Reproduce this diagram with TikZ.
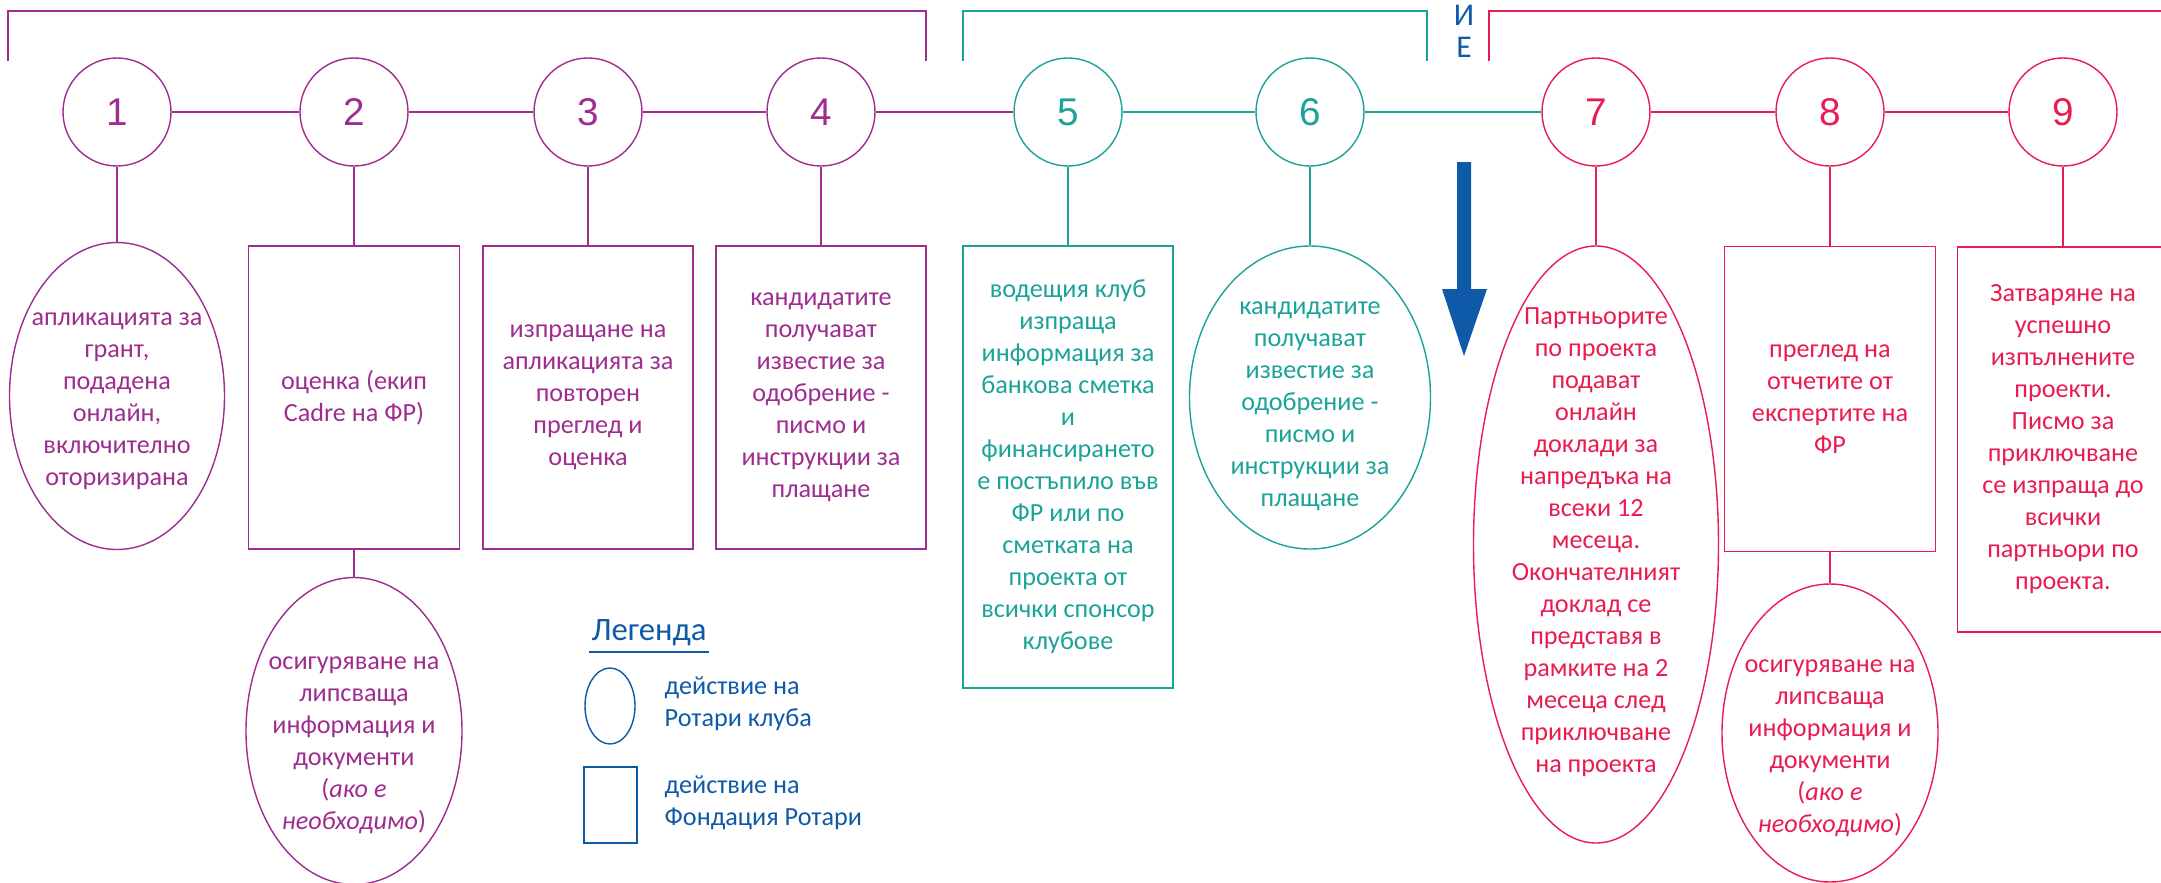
\documentclass[tikz,border=0pt]{standalone}
\usepackage{fontspec}
\setmainfont{Carlito}
\newfontfamily\numfont{Liberation Sans}
\usetikzlibrary{shapes.geometric}

\definecolor{rviolet}{RGB}{158,45,143}
\definecolor{rteal}{RGB}{26,163,150}
\definecolor{rred}{RGB}{232,28,80}
\definecolor{rblue}{RGB}{14,90,168}

\newcommand{\smalltxt}{\fontsize{7.45pt}{9.1pt}\selectfont}
% text that does not make the oval grow
\newcommand{\ovaltext}[2][-1.9pt]{\makebox[0pt]{\raisebox{#1}[0pt][0pt]{\begin{tabular}{@{}c@{}}#2\end{tabular}}}}

\begin{document}
\begin{tikzpicture}[x=1cm, y=-1cm, line width=0.4pt]
\useasboundingbox (0,0) rectangle (21.61,8.83);
\tikzstyle{every node}=[inner sep=0pt, font=\smalltxt];
\tikzstyle{stage}=[draw, shape=circle, minimum size=1.08cm, font=\numfont\fontsize{11pt}{13pt}\selectfont];
\tikzstyle{club}=[draw, shape=ellipse];
\tikzstyle{trf}=[draw, shape=rectangle, align=center];

% brackets on top
\draw[rviolet] (0.08,0.61) -- (0.08,0.11) -- (9.26,0.11) -- (9.26,0.61);
\draw[rteal] (9.63,0.61) -- (9.63,0.11) -- (14.27,0.11) -- (14.27,0.61);
\draw[rred] (14.89,0.61) -- (14.89,0.11) -- (21.70,0.11);
\node[rblue, font=\fontsize{9pt}{10pt}\selectfont] (ltrI) at (14.64,0.15) {И};
\node[rblue, font=\fontsize{9pt}{10pt}\selectfont] (ltrE) at (14.64,0.47) {Е};

\node[stage, rviolet] (c1) at (1.17,1.12) {1};
\node[stage, rviolet] (c2) at (3.54,1.12) {2};
\node[stage, rviolet] (c3) at (5.88,1.12) {3};
\node[stage, rviolet] (c4) at (8.21,1.12) {4};
\node[stage, rteal] (c5) at (10.68,1.12) {5};
\node[stage, rteal] (c6) at (13.10,1.12) {6};
\node[stage, rred] (c7) at (15.96,1.12) {7};
\node[stage, rred] (c8) at (18.30,1.12) {8};
\node[stage, rred] (c9) at (20.63,1.12) {9};

\node[club, rviolet, minimum width=2.15cm, minimum height=3.07cm] (a1) at (1.17,3.96)
  {\ovaltext[-2.6pt]{апликацията за\\грант,\\подадена\\онлайн,\\включително\\оторизирана}};
\node[trf, rviolet, minimum width=2.11cm, minimum height=3.03cm] (b2) at (3.54,3.975)
  {оценка (екип\\Cadre на ФР)};
\node[club, rviolet, minimum width=2.16cm, minimum height=3.07cm] (e2) at (3.54,7.31)
  {\ovaltext[-5.3pt]{осигуряване на\\липсваща\\информация и\\документи\\(\textit{ако е}\\\textit{необходимо})}};
\node[trf, rviolet, minimum width=2.10cm, minimum height=3.03cm] (b3) at (5.88,3.975)
  {изпращане на\\апликацията за\\повторен\\преглед и\\оценка};
\node[trf, rviolet, minimum width=2.10cm, minimum height=3.03cm] (b4) at (8.21,3.975)
  {кандидатите\\получават\\известие за\\одобрение -\\писмо и\\инструкции за\\плащане};
\node[trf, rteal, minimum width=2.10cm, minimum height=4.42cm] (b5) at (10.68,4.67)
  {водещия клуб\\изпраща\\информация за\\банкова сметка\\и\\финансирането\\е постъпило във\\ФР или по\\сметката на\\проекта от\\всички спонсор\\клубове};
\node[club, rteal, minimum width=2.41cm, minimum height=3.03cm] (e6) at (13.10,3.975)
  {\ovaltext[-3.75pt]{кандидатите\\получават\\известие за\\одобрение -\\писмо и\\инструкции за\\плащане}};
\node[club, rred, minimum width=2.45cm, minimum height=5.97cm] (e7) at (15.96,5.445)
  {\ovaltext[-1.05pt]{Партньорите\\по проекта\\подават\\онлайн\\доклади за\\напредъка на\\всеки 12\\месеца.\\Окончателният\\доклад се\\представя в\\рамките на 2\\месеца след\\приключване\\на проекта}};
\node[trf, rred, minimum width=2.11cm, minimum height=3.05cm] (b8) at (18.30,3.99)
  {преглед на\\отчетите от\\експертите на\\ФР};
\node[club, rred, minimum width=2.16cm, minimum height=2.98cm] (e8) at (18.30,7.33)
  {\ovaltext[-5.6pt]{осигуряване на\\липсваща\\информация и\\документи\\(\textit{ако е}\\\textit{необходимо})}};
\node[trf, rred, minimum width=2.11cm, minimum height=3.85cm] (b9) at (20.63,4.395)
  {Затваряне на\\успешно\\изпълнените\\проекти.\\Писмо за\\приключване\\се изпраща до\\всички\\партньори по\\проекта.};

\draw[rviolet] (c1) -- (c2)
(c2) -- (c3)
(c3) -- (c4)
(c4) -- (c5)
(c1) -- (a1)
(c2) -- (b2)
(b2) -- (e2)
(c3) -- (b3)
(c4) -- (b4);
\draw[rteal] (c5) -- (c6)
(c6) -- (c7)
(c5) -- (b5)
(c6) -- (e6);
\draw[rred] (c7) -- (c8)
(c8) -- (c9)
(c7) -- (e7)
(c8) -- (b8)
(b8) -- (e8)
(c9) -- (b9);

% blue arrow
\fill[rblue] (14.57,1.62) -- (14.71,1.62) -- (14.71,2.89) -- (14.87,2.89) -- (14.64,3.56)
  -- (14.42,2.89) -- (14.57,2.89) -- cycle;

% legend
\node[rblue, font=\fontsize{9.3pt}{11pt}\selectfont, inner ysep=0.05cm, inner xsep=0.02cm, anchor=south west] (leg) at (5.89,6.52) {Легенда};
\draw[rblue, line width=0.8pt] (leg.south west) -- (leg.south east);
\node[club, rblue, minimum width=0.50cm, minimum height=0.76cm] (le) at (6.10,7.06) {};
\node[trf, rblue, minimum width=0.53cm, minimum height=0.76cm] (lr) at (6.105,8.05) {};
\node[rblue, anchor=west, align=left] (lt1) at (6.64,7.04) {действие на\\Ротари клуба};
\node[rblue, anchor=west, align=left] (lt2) at (6.64,8.03) {действие на\\Фондация Ротари};
\end{tikzpicture}
\end{document}
